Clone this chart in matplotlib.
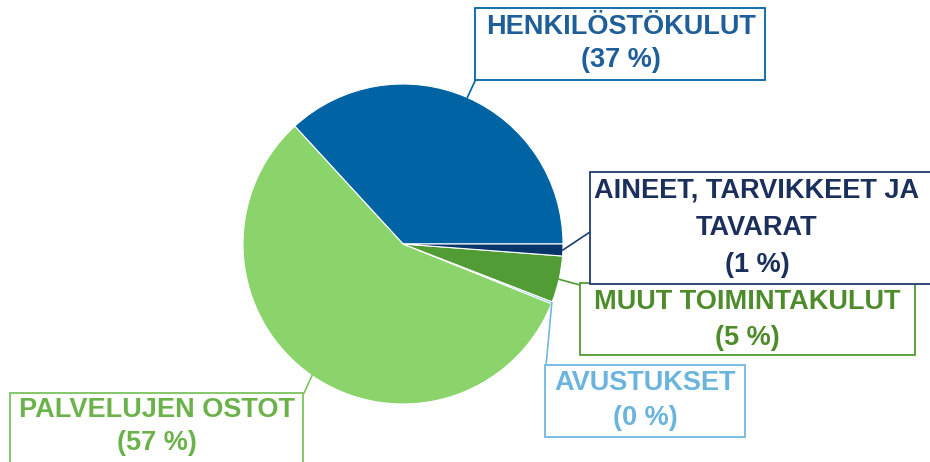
import numpy as np
import matplotlib
matplotlib.use("Agg")
import matplotlib.pyplot as plt
from matplotlib.patches import Rectangle

# osuudet (%) piirakan järjestyksessä vastapäivään alkaen klo 3:sta
categories = ["HENKILÖSTÖKULUT", "PALVELUJEN OSTOT", "AVUSTUKSET",
              "MUUT TOIMINTAKULUT", "AINEET, TARVIKKEET JA\nTAVARAT"]
values = [36.9, 57.2, 0.2, 4.7, 1.2]
colors = ["#0063A3", "#8BD36B", "#6FB8E2", "#519C34", "#06356A"]
text_colors = ["#1E5E99", "#6CB24B", "#6AB4DE", "#4E8C2B", "#1A2F5C"]

plt.rcParams['font.family'] = ['Liberation Sans', 'DejaVu Sans']

W, H = 930, 462
fig = plt.figure(figsize=(W / 100, H / 100), dpi=100)
ax = fig.add_axes([0, 0, 1, 1])

cx, cy, r = 403, H - 244, 160
wedges, _ = ax.pie(values, colors=colors, startangle=0, counterclock=True,
                   center=(cx, cy), radius=r, frame=True,
                   wedgeprops=dict(edgecolor='white', linewidth=0.8))
ax.set_xlim(0, W)
ax.set_ylim(0, H)
ax.set_aspect('equal')
ax.axis('off')

# laatikot: (x0, y0_top, x1, y1_bottom, tekstin keskikohta x, rivien y) kuvan pikseleinä
boxes = [
    (475, 8, 765, 80, 621, [27, 60]),
    (10, 393, 303, 475, 157, [410, 443]),
    (545, 365, 745, 437, 645, [383, 418]),
    (580, 283, 915, 355, 747, [302, 338]),
    (590, 172, 940, 284, 757, [191, 228, 265]),
]
# viivan loppupiste laatikon reunalla
ends = [(475, 81), (304, 393), (546, 366), (580, 285), (590, 232)]

for i, w in enumerate(wedges):
    x0, y0, x1, y1, tx, lines = boxes[i]
    ec = colors[i] if i != 4 else "#1F3D6E"
    if i == 1:
        ec = "#7CC35E"
    ax.add_patch(Rectangle((x0, H - y1), x1 - x0, y1 - y0, facecolor='white',
                           edgecolor=ec, linewidth=1.3, zorder=3, clip_on=False))
    mid = np.deg2rad((w.theta1 + w.theta2) / 2)
    sx, sy = cx + r * np.cos(mid), cy + r * np.sin(mid)
    ex, ey = ends[i]
    ax.plot([sx, ex], [sy, H - ey], color=ec, linewidth=1.2, zorder=2)
    txt = categories[i].split("\n") + ["(%d %%)" % round(values[i])]
    for t, ly in zip(txt, lines):
        ax.text(tx, H - ly, t, ha='center', va='center', fontsize=19.5,
                fontweight='bold', color=text_colors[i], zorder=4)

fig.savefig("out.png", dpi=100)
